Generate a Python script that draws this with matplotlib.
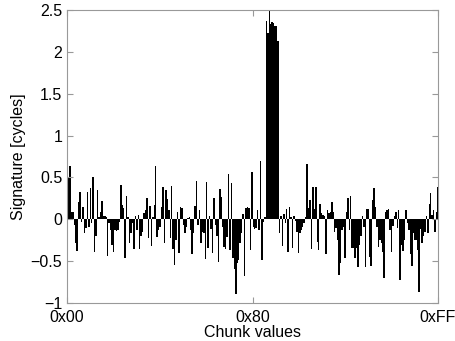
import numpy as np
import matplotlib
matplotlib.use("Agg")
import matplotlib.pyplot as plt

# =========================
# Data (one value per chunk 0x00..0xFF)
# =========================
sig_00_19 = [-0.31, 0.49, 0.64, 0.08, 0.09, -0.07, -0.29, -0.38, 0.20, 0.33,
             -0.03, 0.15, -0.17, -0.10, 0.32, -0.09, 0.37, -0.05, 0.50, -0.39,
             -0.20, 0.35, 0.03, 0.09, 0.22, 0.04]
sig_1a_3a = [0.04, 0.02, -0.44, -0.05, -0.13, -0.31, -0.39, -0.13, -0.14, -0.13,
             -0.03, 0.41, 0.17, 0.13, -0.47, 0.28, 0.03, -0.29, -0.17, -0.05,
             -0.36, 0.04, -0.13, 0.05, -0.36, -0.20, -0.15, 0.07, 0.11, 0.25,
             -0.23, 0.16, -0.32]
sig_3b_5b = [0.03, 0.17, 0.64, -0.21, -0.13, -0.09, 0.15, 0.39, -0.28, 0.35,
             0.24, 0.11, -0.23, 0.40, -0.36, -0.55, -0.25, 0.09, -0.41, 0.15,
             0.13, -0.07, -0.17, -0.09, 0.01, 0.03, -0.13, -0.42, -0.17, 0.16,
             0.46, -0.07, 0.11]
sig_5c_7c = [-0.28, -0.15, -0.17, -0.48, 0.44, -0.34, 0.04, -0.12, -0.40, 0.25,
             -0.07, -0.20, -0.51, 0.36, 0.27, -0.09, -0.33, -0.36, -0.21, 0.54,
             -0.37, 0.43, -0.47, -0.60, -0.90, -0.53, -0.49, -0.29, -0.17, 0.06,
             -0.68, 0.13, 0.15]
sig_7d_9d = [0.13, -0.37, 0.56, -0.09, -0.12, -0.10, 0.11, -0.13, 0.70, -0.49,
             -0.03, 0.02, 2.37, 2.22, 2.49, 2.33, 2.36, 2.34, 2.31, 2.31,
             2.13, -0.16, 0.04, -0.32, 0.06, -0.05, 0.12, -0.39, 0.14, 0.03,
             -0.35, 0.04, -0.02]
sig_9e_be = [-0.15, -0.40, -0.17, -0.13, -0.09, -0.05, 0.03, 0.66, 0.13, 0.23,
             -0.36, 0.38, 0.12, 0.38, -0.27, -0.37, 0.18, 0.07, 0.05, 0.04,
             -0.42, 0.11, 0.07, 0.09, 0.20, 0.08, -0.15, -0.11, -0.25, -0.67,
             -0.52, -0.13, -0.09]
sig_bf_df = [-0.47, 0.09, 0.25, -0.13, 0.28, -0.35, -0.35, -0.47, -0.35, -0.57,
             -0.31, -0.20, 0.04, -0.09, -0.57, 0.12, 0.12, -0.45, -0.56, 0.23,
             0.37, 0.14, -0.09, -0.33, -0.25, -0.29, -0.39, -0.70, 0.08, 0.11,
             0.12, -0.13, -0.39]
sig_e0_ff = [-0.08, 0.04, 0.08, -0.11, 0.11, -0.73, -0.31, -0.38, -0.25, 0.11,
             -0.05, -0.13, -0.42, -0.56, -0.17, -0.25, -0.25, -0.37, -0.87, -0.12,
             -0.28, -0.20, -0.15, 0.04, -0.17, 0.18, 0.31, 0.05, 0.11, -0.15,
             0.09, 0.38]

signature = np.array(sig_00_19 + sig_1a_3a + sig_3b_5b + sig_5c_7c +
                     sig_7d_9d + sig_9e_be + sig_bf_df + sig_e0_ff)
chunks = np.arange(len(signature))

xtick_pos = [0, 128, 255]
xtick_labels = ['0x00', '0x80', '0xFF']
yticks = [-1, -0.5, 0, 0.5, 1, 1.5, 2, 2.5]
ytick_labels = ['\u22121', '\u22120.5', '0', '0.5', '1', '1.5', '2', '2.5']

# =========================
# Style (MATLAB-like)
# =========================
plt.rcParams.update({
    'font.family': ['Liberation Sans', 'DejaVu Sans'],
    'font.size': 11.5,
    'xtick.direction': 'in',
    'ytick.direction': 'in',
    'axes.linewidth': 0.8,
})

fig = plt.figure(figsize=(4.56, 3.41), dpi=100)
ax = fig.add_axes([0.147, 0.112, 0.8135, 0.8585])

ax.bar(chunks, signature, width=1.0, color='black', linewidth=0)

ax.set_xlim(0, 255)
ax.set_ylim(-1, 2.5)
ax.set_xticks(xtick_pos)
ax.set_xticklabels(xtick_labels)
ax.set_yticks(yticks)
ax.set_yticklabels(ytick_labels)

ax.set_xlabel('Chunk values', labelpad=0)
ax.set_ylabel('Signature [cycles]', labelpad=3)

for s in ax.spines.values():
    s.set_color('0.6')
ax.tick_params(colors='0.6', labelcolor='black', length=4, width=0.8,
               top=True, right=True)
ax.tick_params(axis='x', pad=5)
ax.tick_params(axis='y', pad=3.5)

fig.savefig('out.png', dpi=100)
